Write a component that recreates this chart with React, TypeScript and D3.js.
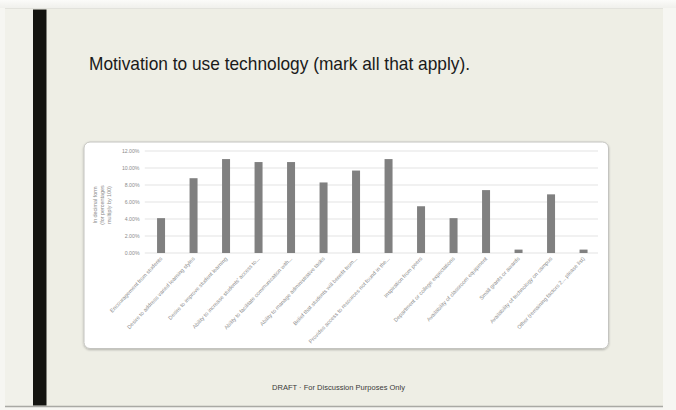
import React from "react";
import * as d3 from "d3";

const categories = [
  "Encouragement from students",
  "Desire to address varied learning styles",
  "Desire to improve student learning",
  "Ability to increase students' access to...",
  "Ability to facilitate communication with...",
  "Ability to manage administrative tasks",
  "Belief that students will benefit from...",
  "Provides access to resources not found in the...",
  "Inspiration from peers",
  "Department or college expectations",
  "Availability of classroom equipment",
  "Small grants or awards",
  "Availability of technology on campus",
  "Other (remaining factors 2... please list)",
];
const values = [0.041, 0.088, 0.1105, 0.107, 0.107, 0.083, 0.097, 0.1105, 0.055, 0.041, 0.074, 0.004, 0.069, 0.004];
const yTicks = [0, 0.02, 0.04, 0.06, 0.08, 0.1, 0.12];
const yTitleLines = ["In decimal form", "(for percentages", "multiply by 100)"];
const title = "Motivation to use technology (mark all that apply).";
const footer = "DRAFT · For Discussion Purposes Only";

export default function App() {
  const W = 676, H = 410;
  const x = d3.scaleBand<string>().domain(categories).range([144.8, 599.8]).paddingInner(0.754).paddingOuter(0.377);
  const y = d3.scaleLinear().domain([0, 0.12]).range([253, 151]);
  const fmt = d3.format(".2%");
  const font = "'Liberation Sans', Arial, sans-serif";
  return (
    <svg width={W} height={H} style={{ position: "absolute", left: 0, top: 0 }}>
      <defs>
        <filter id="sh" x="-5%" y="-5%" width="110%" height="115%">
          <feDropShadow dx="0" dy="1" stdDeviation="1.2" floodColor="#000" floodOpacity="0.25" />
        </filter>
        <linearGradient id="topg" x1="0" y1="0" x2="0" y2="1">
          <stop offset="0" stopColor="#fbfbf9" />
          <stop offset="1" stopColor="#f0f0ec" />
        </linearGradient>
      </defs>
      <rect x={0} y={0} width={W} height={H} fill="#f6f6f2" />
      <rect x={0} y={0} width={W} height={8} fill="url(#topg)" />
      <rect x={5} y={8} width={658} height={398} fill="#eeeee5" />
      <rect x={5} y={8} width={28} height={398} fill="#f1f1ea" />
      <line x1={5} x2={663} y1={8.5} y2={8.5} stroke="#e2e2dc" />
      <line x1={5} x2={663} y1={406.5} y2={406.5} stroke="#a9a9a4" strokeWidth={1.5} />
      <rect x={33} y={9.5} width={13.5} height={396} fill="#141410" />
      <text x={89} y={70} fontFamily="'Liberation Sans Narrow', 'Liberation Sans', Arial, sans-serif" fontSize={19} fill="#1a1a1a" textLength={381} lengthAdjust="spacingAndGlyphs">{title}</text>

      <rect x={84} y={142} width={524.5} height={206.5} rx={6} fill="#ffffff" stroke="#c4c4c0" strokeWidth={1} filter="url(#sh)" />

      {yTicks.map((t) => (
        <g key={t}>
          <line x1={144.8} x2={598} y1={y(t)} y2={y(t)} stroke="#dcdcdc" strokeWidth={0.8} />
          <text x={139.5} y={y(t) + 1.8} textAnchor="end" fontFamily={font} fontSize={5.2} fill="#8c8c8c">{fmt(t)}</text>
        </g>
      ))}
      <g transform="translate(104,205) rotate(-90)">
        {yTitleLines.map((l, i) => (
          <text key={i} x={0} y={(i - 1) * 7.4} textAnchor="middle" fontFamily={font} fontSize={5.4} fill="#8c8c8c">{l}</text>
        ))}
      </g>

      {categories.map((c, i) => (
        <rect key={c} x={x(c)!} y={y(values[i])} width={x.bandwidth()} height={y(0) - y(values[i])} fill="#808080" />
      ))}

      {categories.map((c) => {
        const cx = x(c)! + x.bandwidth() / 2 + 1.5;
        return (
          <text key={c} transform={`translate(${cx},259) rotate(-47)`} textAnchor="end" fontFamily={font} fontSize={5.5} fill="#8c8c8c">{c}</text>
        );
      })}

      <text x={272} y={390} fontFamily={font} fontSize={7} fill="#3a3a3a" textLength={133} lengthAdjust="spacingAndGlyphs">{footer}</text>
    </svg>
  );
}
